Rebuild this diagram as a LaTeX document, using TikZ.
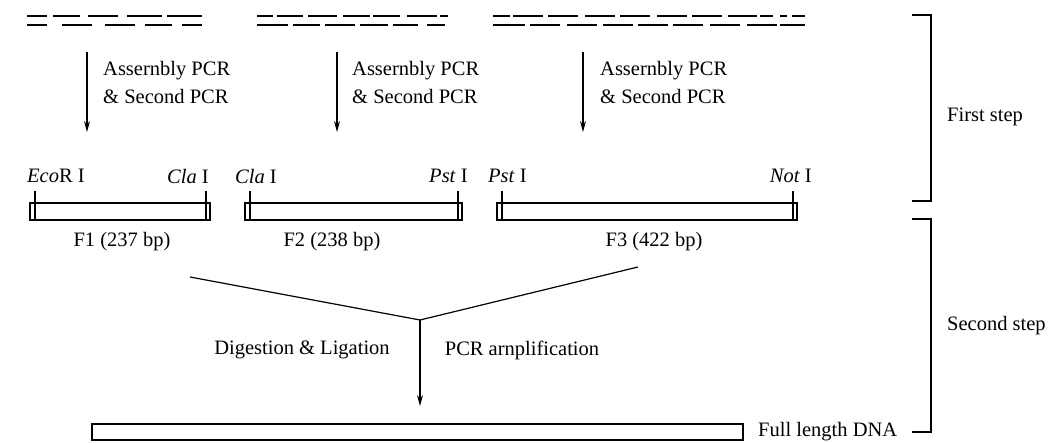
\documentclass[tikz,border=0pt]{standalone}
\usepackage{fontspec}
\setmainfont{Liberation Serif}
\usetikzlibrary{arrows.meta}
\tikzset{
  lbl/.style={font=\fontsize{20.5}{28}\selectfont, inner sep=0pt},
  fragbox/.style={draw, line width=1.3pt, minimum height=17pt, inner sep=0pt},
  tick/.style={line width=1.2pt},
  dna/.style={line width=1.8pt},
  flow/.style={line width=1.2pt, -{Stealth[length=11pt,width=6pt]}},
  vline/.style={line width=1.2pt},
  brack/.style={line width=1.4pt}
}
\begin{document}
\begin{tikzpicture}[x=1pt,y=-1pt]
\useasboundingbox (0,0) rectangle (1052,443);
% ---- oligo dashes ----
\foreach \a/\b in {27/47,53/80,88/118,127/162,167/202,
                   257/273,277/303,308/337,343/370,373/400,407/437,440/448,
                   493/510,513/543,548/578,585/615,620/650,657/687,692/722,728/757,760/773,780/787,792/805}
  \draw[dna] (\a,16) -- (\b,16);
\foreach \a/\b in {27/47,62/92,105/135,145/172,182/202,
                   257/288,293/320,325/355,360/388,393/418,427/445,
                   493/525,530/560,567/597,603/633,638/668,673/703,710/740,747/777,780/805}
  \draw[dna] (\a,25) -- (\b,25);
% ---- assembly arrows ----
\coordinate (a1s) at (87,52);  \coordinate (a1e) at (87,132);
\coordinate (a2s) at (337,52); \coordinate (a2e) at (337,132);
\coordinate (a3s) at (583,52); \coordinate (a3e) at (583,132);
\draw[flow] (a1s) -- (a1e);
\draw[flow] (a2s) -- (a2e);
\draw[flow] (a3s) -- (a3e);
\node[lbl, anchor=west, align=left] (l1) at (103,82) {Assernbly PCR\\\& Second PCR};
\node[lbl, anchor=west, align=left] (l2) at (352,82) {Assernbly PCR\\\& Second PCR};
\node[lbl, anchor=west, align=left] (l3) at (600,82) {Assernbly PCR\\\& Second PCR};
% ---- enzyme sites ----
\node[lbl, anchor=west] (e1) at (27,176) {\textit{Eco}R I};
\node[lbl, anchor=east] (e2) at (209,176) {\textit{Cla} I};
\node[lbl, anchor=west] (e3) at (235,176) {\textit{Cla} I};
\node[lbl, anchor=east] (e4) at (468,176) {\textit{Pst} I};
\node[lbl, anchor=west] (e5) at (488,176) {\textit{Pst} I};
\node[lbl, anchor=east] (e6) at (812,176) {\textit{Not} I};
% ---- fragments ----
\node[fragbox, minimum width=180pt] (f1) at (120,211.5) {};
\node[fragbox, minimum width=217pt] (f2) at (353.5,211.5) {};
\node[fragbox, minimum width=300pt] (f3) at (647,211.5) {};
\draw[tick] (35,191) -- (35,220);
\draw[tick] (206,191) -- (206,220);
\draw[tick] (250,191) -- (250,220);
\draw[tick] (458,191) -- (458,220);
\draw[tick] (502,191) -- (502,220);
\draw[tick] (793,191) -- (793,220);
\node[lbl] (n1) at (122,242) {F1 (237 bp)};
\node[lbl] (n2) at (332,242) {F2 (238 bp)};
\node[lbl] (n3) at (654,242) {F3 (422 bp)};
% ---- ligation ----
\coordinate (v1) at (190,277);
\coordinate (v2) at (638,267);
\coordinate (j) at (420,320);
\coordinate (je) at (420,406);
\draw[vline] (v1) -- (j) -- (v2);
\draw[flow] (j) -- (je);
\node[lbl] (d1) at (302,350) {Digestion \& Ligation};
\node[lbl] (d2) at (522,350) {PCR arnplification};
% ---- full length ----
\node[fragbox, minimum width=651pt, minimum height=16pt] (full) at (417.5,432) {};
\node[lbl, anchor=west] (fl) at (758,432) {Full length DNA};
% ---- brackets ----
\draw[brack] (912,15) -- (931,15) -- (931,201) -- (912,201);
\draw[brack] (912,219) -- (931,219) -- (931,432) -- (912,432);
\node[lbl, anchor=west] (s1) at (947,117) {First step};
\node[lbl, anchor=west] (s2) at (947,326) {Second step};
\end{tikzpicture}
\end{document}
